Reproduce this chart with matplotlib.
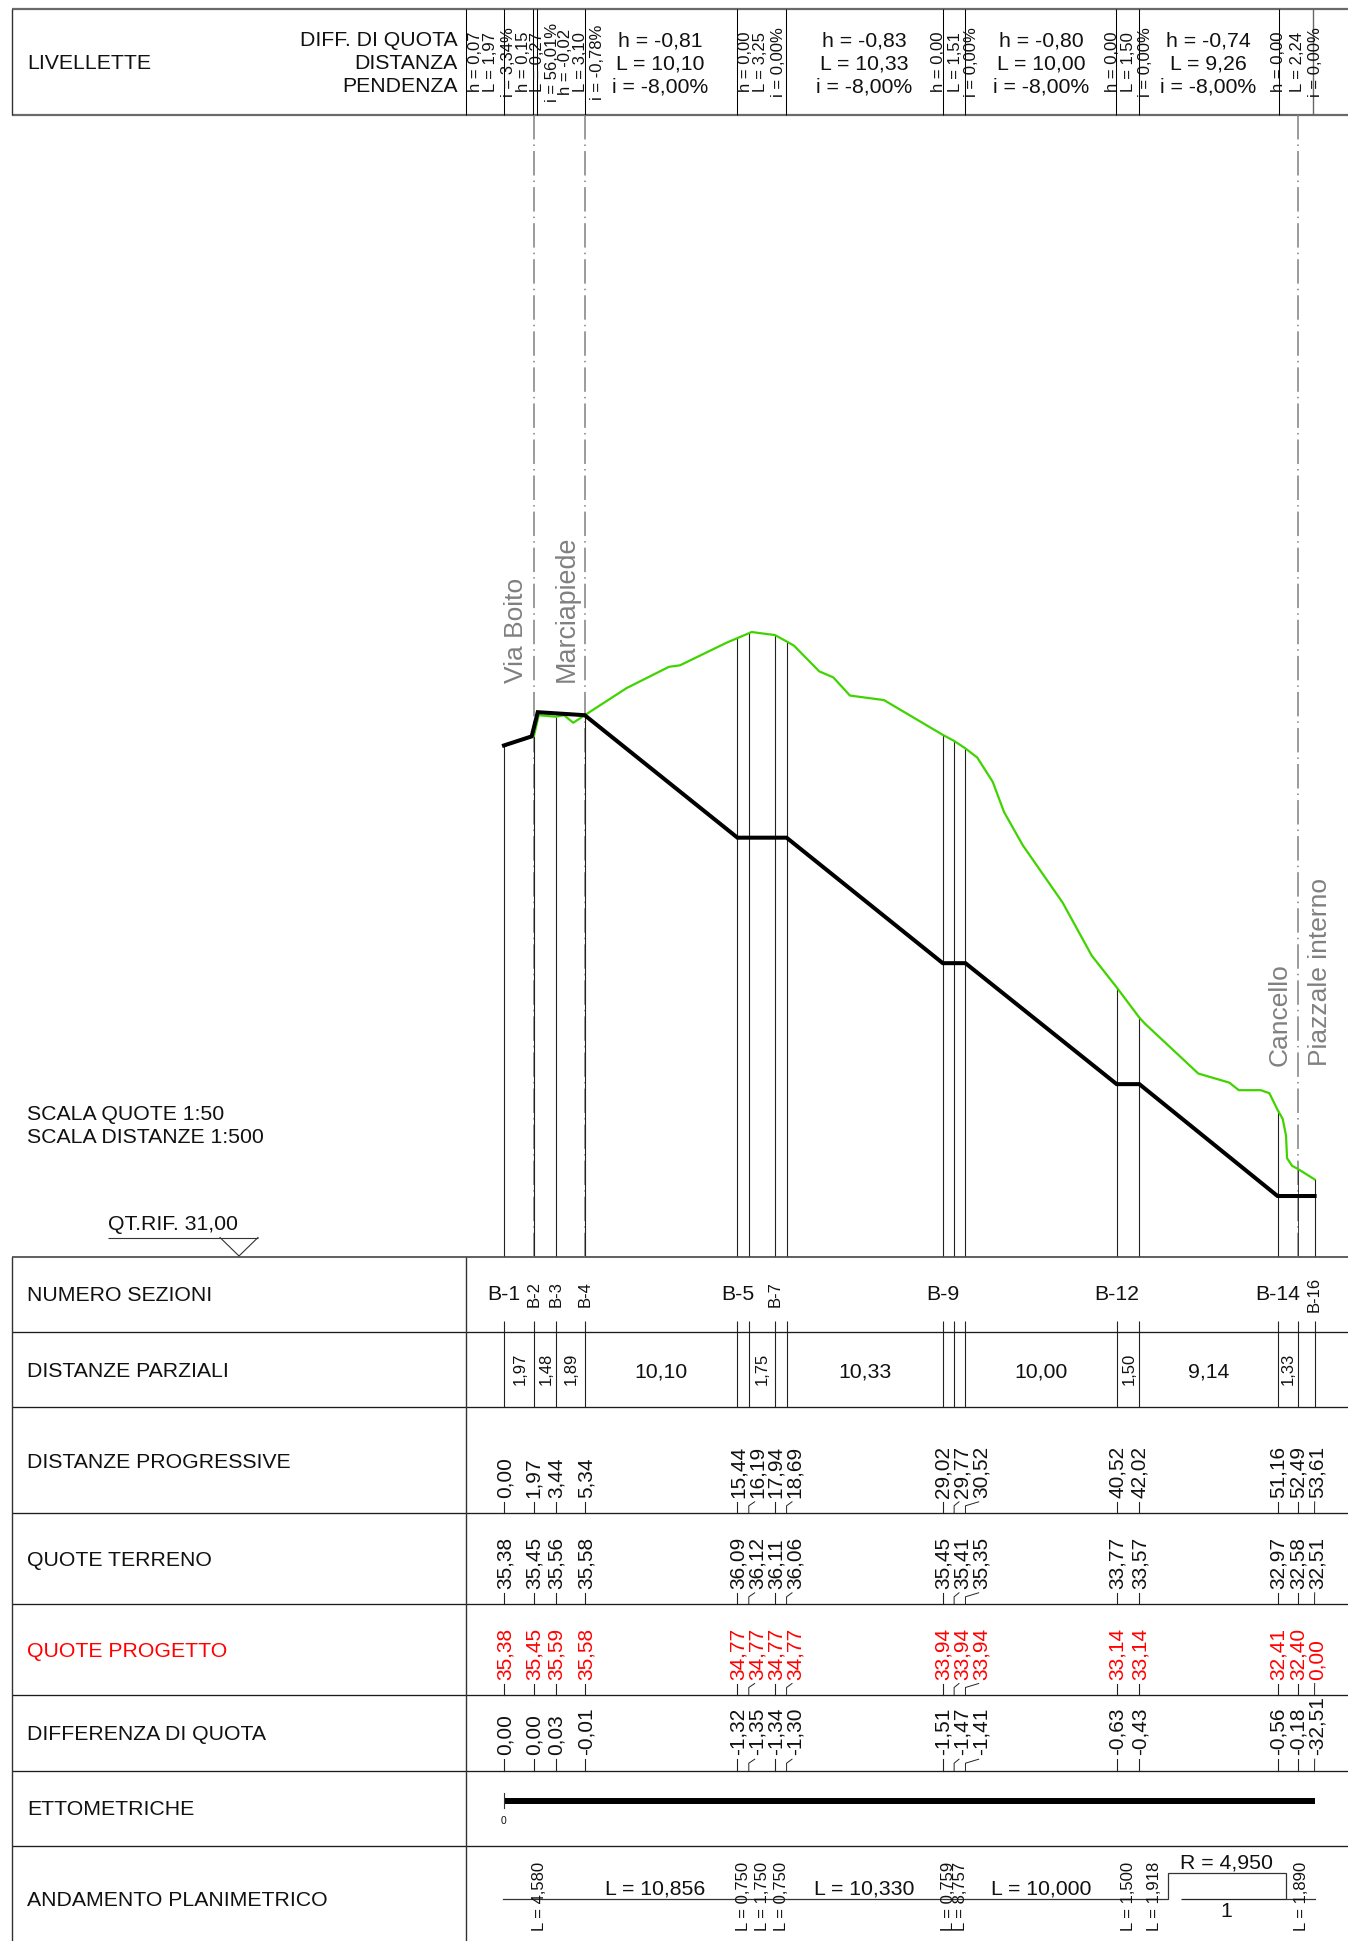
import numpy as np
import matplotlib
matplotlib.use("Agg")
import matplotlib.pyplot as plt
from matplotlib.transforms import blended_transform_factory

plt.rcParams['font.family'] = ['Liberation Sans', 'DejaVu Sans']

# ---------- DATA ----------
stations = [0.00, 1.97, 3.44, 5.34, 15.44, 16.19, 17.94, 18.69, 29.02, 29.77, 30.52, 40.52, 42.02, 51.16, 52.49, 53.61]
terrain_s = [0.00, 1.97, 2.30, 3.42, 3.97, 4.58, 5.34, 8.12, 10.91, 11.64, 14.73, 15.44, 16.38, 17.92, 18.65, 19.18,
             20.85, 21.78, 22.88, 25.13, 29.02, 29.77, 30.52, 31.30, 32.32, 33.07, 34.31, 36.95, 38.87, 40.52, 42.02,
             42.39, 45.92, 47.97, 48.60, 50.05, 50.62, 51.16, 51.50, 51.72, 51.79, 52.12, 52.49, 53.61]
terrain_z = [35.38, 35.44, 35.58, 35.57, 35.58, 35.53, 35.58, 35.76, 35.90, 35.91, 36.06, 36.09, 36.13, 36.11, 36.07, 36.04,
             35.87, 35.83, 35.71, 35.68, 35.45, 35.41, 35.36, 35.30, 35.14, 34.94, 34.72, 34.34, 33.99, 33.78, 33.58,
             33.54, 33.21, 33.15, 33.10, 33.10, 33.08, 32.97, 32.91, 32.80, 32.65, 32.60, 32.58, 32.51]
project_s = [0.00, 1.83, 2.23, 5.34, 15.44, 18.69, 29.02, 30.52, 40.52, 42.02, 51.16, 53.61]
project_z = [35.38, 35.44, 35.60, 35.58, 34.77, 34.77, 33.94, 33.94, 33.14, 33.14, 32.40, 32.40]

row_labels = ["NUMERO SEZIONI", "DISTANZE PARZIALI", "DISTANZE PROGRESSIVE", "QUOTE TERRENO",
              "QUOTE PROGETTO", "DIFFERENZA DI QUOTA", "ETTOMETRICHE", "ANDAMENTO PLANIMETRICO"]
progressive = ["0,00", "1,97", "3,44", "5,34", "15,44", "16,19", "17,94", "18,69", "29,02", "29,77", "30,52", "40,52", "42,02", "51,16", "52,49", "53,61"]
q_terreno = ["35,38", "35,45", "35,56", "35,58", "36,09", "36,12", "36,11", "36,06", "35,45", "35,41", "35,35", "33,77", "33,57", "32,97", "32,58", "32,51"]
q_progetto = ["35,38", "35,45", "35,59", "35,58", "34,77", "34,77", "34,77", "34,77", "33,94", "33,94", "33,94", "33,14", "33,14", "32,41", "32,40", "0,00"]
q_diff = ["0,00", "0,00", "0,03", "-0,01", "-1,32", "-1,35", "-1,34", "-1,30", "-1,51", "-1,47", "-1,41", "-0,63", "-0,43", "-0,56", "-0,18", "-32,51"]

# ---------- LAYOUT (pixels) ----------
W, H = 1348, 1941
S0, KX = 504.0, 15.12
Y0, KZ = 1256.5, 151.2
Z0 = 32.0
BASE = 1256.5
ROWS = [1331.7, 1407.3, 1513.3, 1604.3, 1695.0, 1770.7, 1846.0]
COL = 465.7
LEFT = 12.3
label_x = [504, 533, 555.7, 585, 737.3, 756.7, 775, 794, 942.7, 961, 980.7, 1116.7, 1139, 1277.7, 1297.3, 1316.7]
FS = 15.3
FV = 15.0
FM = 12.0
DARK = '#1c1c1c'
GREY = '#808080'

fig = plt.figure(figsize=(W / 100, H / 100), dpi=100)
ax = fig.add_axes([0, 0, 1, 1])
ax.set_xlim(0, W)
ax.set_ylim(H, 0)
ax.axis('off')
prof = fig.add_axes([0, 0, 1, 1])
prof.patch.set_alpha(0)
prof.set_xlim((0 - S0) / KX, (W - S0) / KX)
prof.set_ylim(Z0 - (H - Y0) / KZ, Z0 + Y0 / KZ)
prof.axis('off')
sy = blended_transform_factory(prof.transData, ax.transData)   # x metres, y pixels


def hl(y, x0=LEFT, x1=W, c=DARK, lw=0.95):
    ax.plot([x0, x1], [y, y], color=c, lw=lw, solid_capstyle='butt')


def vl(x, y0, y1, c='black', lw=0.75):
    ax.plot([x, x], [y0, y1], color=c, lw=lw, solid_capstyle='butt')


def T(x, y, s, size=FS, rot=0, ha='center', va='center', c='#111111'):
    if rot == 0:
        y = y + 1.2
    else:
        x = x + 0.8
    ax.text(x, y, s, fontsize=size, rotation=rot, ha=ha, va=va, color=c, rotation_mode='anchor')


# ---------- header ----------
hl(9, lw=1.6, c='#6a6a6a')
hl(115, lw=1.6, c='#6a6a6a')
vl(LEFT, 9, 115, c='#333333', lw=1.0)
for x in [465.7, 503.7, 533.3, 537.3, 584.7, 737, 786, 942.7, 965.3, 1116.3, 1139, 1279.3]:
    vl(x, 9, 115)
vl(1312.7, 9, 115, c='#666666', lw=1.0)
T(27, 62, "LIVELLETTE", ha='left')
for y, s in zip([39.5, 62.5, 85.5], ["DIFF. DI QUOTA", "DISTANZA", "PENDENZA"]):
    T(458, y, s, ha='right')
big_cols = [(660, ["h = -0,81", "L = 10,10", "i = -8,00%"]), (864, ["h = -0,83", "L = 10,33", "i = -8,00%"]),
            (1041, ["h = -0,80", "L = 10,00", "i = -8,00%"]), (1208, ["h = -0,74", "L = 9,26", "i = -8,00%"])]
for x, lines in big_cols:
    for y, s in zip([39.5, 62.5, 85.5], lines):
        T(x, y, s)
small_cols = [(475, "h = 0,07"), (490, "L = 1,97"), (508, "i = 3,34%"), (522.7, "h = 0,15"), (536.7, "L = 0,27"),
              (551.7, "i = 56,01%"), (565, "h = -0,02"), (580, "L = 3,10"), (596.7, "i = -0,78%"),
              (745, "h = 0,00"), (760, "L = 3,25"), (778, "i = 0,00%"), (938, "h = 0,00"), (955, "L = 1,51"), (970.7, "i = 0,00%"),
              (1111.7, "h = 0,00"), (1127.7, "L = 1,50"), (1145, "i = 0,00%"), (1278, "h = 0,00"), (1296.7, "L = 2,24"), (1314.3, "i = 0,00%")]
for x, s in small_cols:
    T(x, 62, s, size=FM, rot=90)

# ---------- profile ----------
st = np.array(stations)
tops = np.interp(st, terrain_s, terrain_z)
for i, (s, z) in enumerate(zip(st, tops)):
    prof.plot([s, s], [Z0, z], color='#222222', lw=0.8 if i != 14 else 0.6, solid_capstyle='butt', zorder=2)
prof.plot(terrain_s, terrain_z, color='#3fd400', lw=1.6, zorder=3, solid_joinstyle='round')
prof.plot(project_s, project_z, color='black', lw=2.9, zorder=4, solid_joinstyle='miter')

for i, top in [(1, 115), (3, 115), (14, 115)]:
    ax.plot([stations[i], stations[i]], [top, BASE], transform=sy, color=GREY, lw=1.1,
            dashes=(16, 3.3, 1.0, 3.3), zorder=5)

T(515, 683, "Via Boito", size=19, rot=90, ha='left', c=GREY)
T(565.5, 682, "Marciapiede", size=19.4, rot=90, ha='left', c=GREY)
T(1278.7, 1066, "Cancello", size=19, rot=90, ha='left', c=GREY)
T(1319, 1066, "Piazzale interno", size=19, rot=90, ha='left', c=GREY)

T(27, 1113.5, "SCALA QUOTE 1:50", ha='left')
T(27, 1136, "SCALA DISTANZE 1:500", ha='left')
T(108, 1223, "QT.RIF. 31,00", ha='left')
hl(1237.5, 108, 258, c='#333333', lw=0.8)
ax.plot([220, 239, 258], [1237.5, 1256, 1237.5], color='#333333', lw=0.8)

# ---------- table ----------
hl(BASE, lw=1.2, c='#444444')
for y in ROWS:
    hl(y)
vl(LEFT, BASE, H, c='#333333', lw=1.0)
vl(COL, BASE, H, c='#333333', lw=1.0)
for y, s, c in zip([1294, 1370.6, 1461, 1559, 1650, 1733, 1808, 1899], row_labels,
                   ['#111111'] * 4 + ['#ff0000'] + ['#111111'] * 3):
    T(27, y, s, ha='left', c=c)

# row 1 labels
sec_big = [("B-1", 0), ("B-5", 4), ("B-9", 8), ("B-12", 11), ("B-14", 13)]
sec_small = [("B-2", 1), ("B-3", 2), ("B-4", 3), ("B-7", 6), ("B-16", 15)]
for s, i in sec_big:
    ax.text(stations[i], 1295, s, transform=sy, fontsize=FS, ha='center', va='center', color='#111111')
for s, i in sec_small:
    ax.text(stations[i], 1294, s, transform=sy, fontsize=FM, ha='center', va='center', rotation=90, color='#111111')

# row 2
for s in stations:
    ax.plot([s, s], [1320.7, 1407.3], transform=sy, color='#222222', lw=0.8, solid_capstyle='butt')
for x, s in [(519.3, "1,97"), (545, "1,48"), (570.7, "1,89"), (761.7, "1,75"), (1128.3, "1,50"), (1287.3, "1,33")]:
    T(x, 1369, s, size=FM, rot=90)
for x, s in [(661, "10,10"), (865, "10,33"), (1041, "10,00"), (1208.3, "9,14")]:
    T(x, 1370.6, s)

# rows 3-6
for line_y, vals, col in [(ROWS[2], progressive, '#111111'), (ROWS[3], q_terreno, '#111111'),
                          (ROWS[4], q_progetto, '#ff0000'), (ROWS[5], q_diff, '#111111')]:
    for s, lx, v in zip(stations, label_x, vals):
        px = S0 + KX * s
        if abs(lx - px) < 1.0:
            ax.plot([s, s], [line_y, line_y - 11.5], transform=sy, color='#222222', lw=0.8)
        else:
            ax.plot([px, px, lx - 2], [line_y, line_y - 7.5, line_y - 11.5], color='#222222', lw=0.7)
        T(lx, line_y - 15.5, v, size=FV, rot=90, ha='left', c=col)

# row 7
ax.plot([stations[0], stations[-1]], [1800.7, 1800.7], transform=sy, color='black', lw=4.3, solid_capstyle='butt')
ax.plot([0, 0], [1793, 1808], transform=sy, color='#333333', lw=0.8)
T(503.5, 1820, "0", size=7.5)

# row 8
alx = [503, 1168.3, 1168.3, 1285.7, 1285.7, 1315]
aly = [1899, 1899, 1872.7, 1872.7, 1899, 1899]
ax.plot(alx, aly, color='#333333', lw=0.9, solid_joinstyle='miter')
hl(1899, 1181, 1285.7, c='#222222', lw=0.9)
T(1226.7, 1861.7, "R = 4,950")
T(1226.7, 1910, "1")
for x, s in [(654.7, "L = 10,856"), (864, "L = 10,330"), (1040.8, "L = 10,000")]:
    T(x, 1888, s)
for x, s in [(538.3, "L = 4,580"), (743, "L = 0,750"), (761.7, "L = 1,750"), (780.7, "L = 0,750"),
             (948, "L = 0,759"), (960, "L = 8,757"), (1128, "L = 1,500"), (1154, "L = 1,918"), (1300.7, "L = 1,890")]:
    T(x, 1896.7, s, size=FM, rot=90)

fig.savefig("out.png", dpi=100)
